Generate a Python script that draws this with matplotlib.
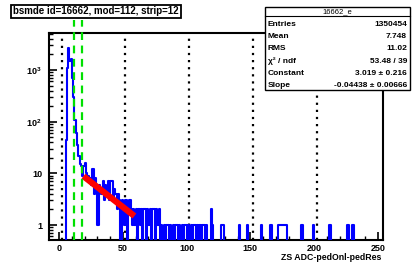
import numpy as np
import matplotlib
matplotlib.use("Agg")
import matplotlib.pyplot as plt
from matplotlib.patches import Rectangle

plt.rcParams.update({
    "font.family": ["Liberation Sans", "DejaVu Sans"],
    "mathtext.fontset": "custom",
    "mathtext.rm": "Liberation Sans",
    "mathtext.bf": "Liberation Sans:bold",
    "mathtext.it": "Liberation Sans:italic",
})

# =========================
# DATA
# =========================
# counts for bins 0..130 (bin width 1 ADC)
counts_core = [
    0, 0, 0, 0, 0, 45, 1100, 2700, 1500, 1600,
    700, 300, 110, 60, 35, 22, 15, 14, 9, 14,
    16, 10, 9, 7, 8, 6, 12, 4, 8, 5,
    1, 6, 5, 4, 7, 3, 6, 4, 7, 3,
    7, 7, 3, 5, 4, 2, 4, 3, 0, 3,
    2, 1, 3, 0, 2, 3, 2, 1, 2, 1,
    2, 0, 2, 1, 2, 0, 2, 2, 0, 2,
    1, 2, 0, 2, 2, 0, 2, 1, 2, 0,
    1, 0, 1, 0, 1, 1, 0, 1, 0, 1,
    0, 1, 1, 0, 1, 0, 1, 0, 1, 1,
    0, 1, 0, 1, 0, 1, 1, 0, 1, 0,
    1, 0, 1, 1, 0, 1, 0, 0, 0, 2,
    1, 0, 0, 0, 0, 0, 0, 1, 1, 0,
]
# sparse tail: bin -> count
tail_bins = [141, 147, 158, 165, 166, 172, 173, 174, 175, 176, 177, 178, 190, 199, 212, 226, 230]
tail_counts = [1, 1, 1, 1, 1, 1, 1, 1, 1, 1, 1, 1, 1, 1, 1, 1, 1]

n_bins = 256
fit_const = 3.019
fit_slope = -0.04438
fit_range = (19, 59)
cut_lines = [12, 18]
strip_lines = [2, 52, 102, 152, 202]

title = "bsmde id=16662, mod=112, strip=12"
x_label = "ZS ADC-pedOnl-pedRes"
stats_title = "16662_e"
stats_names = ["Entries", "Mean", "RMS", "χ² / ndf", "Constant", "Slope"]
stats_values = ["1350454", "7.748", "11.02", "53.48 / 39",
                "3.019 ± 0.216", "-0.04438 ± 0.00666"]

# =========================
# BUILD HISTOGRAM
# =========================
counts = np.zeros(n_bins)
counts[:len(counts_core)] = counts_core
for b, c in zip(tail_bins, tail_counts):
    counts[b] = c
edges = np.arange(n_bins + 1)

# =========================
# PLOT
# =========================
W, H = 413, 263
fig = plt.figure(figsize=(W / 100, H / 100), dpi=100)
fig.patch.set_facecolor("white")

def fx(px):
    return px / W

def fy(py):
    return 1 - py / H

ax = fig.add_axes([fx(49), fy(240), fx(383) - fx(49), fy(33) - fy(240)])
ax.set_yscale("log")
ax.set_xlim(-8, 254)
ax.set_ylim(0.513, 5200)

for xv in strip_lines:
    ax.axvline(xv, color="black", ls=(0, (1, 2.2)), lw=1.6, zorder=1)

ax.step(edges, np.append(counts, 0), where="post", color="blue", lw=1.5, zorder=3)

xf = np.linspace(fit_range[0], fit_range[1], 50)
ax.plot(xf, np.exp(fit_const + fit_slope * xf), color="red", lw=4.5,
        solid_capstyle="butt", zorder=4)

for xv in cut_lines:
    ax.axvline(xv, ymin=0, ymax=1.063, color="#00e000", ls=(0, (3.5, 2.5)),
               lw=1.6, clip_on=False, zorder=5)

for s in ax.spines.values():
    s.set_linewidth(1.5)

ax.set_xticks([0, 50, 100, 150, 200, 250])
ax.set_xticklabels(["0", "50", "100", "150", "200", "250"])
ax.set_xticks(np.arange(0, 251, 10), minor=True)
ax.set_yticks([1, 10, 100, 1000])
ax.set_yticklabels(["1", "10", r"$\mathbf{10^{\,2}}$", r"$\mathbf{10^{\,3}}$"])
ax.tick_params(axis="both", which="major", direction="in", length=6, width=1.2,
               labelsize=6.5, top=False, right=False)
ax.tick_params(axis="both", which="minor", direction="in", length=3, width=1.0,
               top=False, right=False)
ax.tick_params(axis="x", pad=3)
ax.tick_params(axis="y", pad=5)
for lab in ax.get_xticklabels() + ax.get_yticklabels():
    lab.set_fontweight("bold")

fig.text(fx(381), fy(258), x_label, ha="right", va="center", fontsize=6.3,
         fontweight="bold")

# title box
fig.text(fx(96), fy(11.5), title, ha="center", va="center", fontsize=7.0,
         fontweight="bold",
         bbox=dict(boxstyle="square,pad=0.2", fc="white", ec="black", lw=1.3))

# stats box
bx0, by0, bx1, by1 = 265, 7, 410, 90
fig.patches.append(Rectangle((fx(bx0), fy(by1)), fx(bx1) - fx(bx0), fy(by0) - fy(by1),
                             transform=fig.transFigure, fc="white", ec="black",
                             lw=1.0, zorder=10))
fig.lines.append(plt.Line2D([fx(bx0), fx(bx1)], [fy(16), fy(16)],
                            transform=fig.transFigure, color="black", lw=0.8,
                            zorder=11))
fig.text(fx(337), fy(11.5), stats_title, ha="center", va="center", fontsize=5.5,
         zorder=12)
row_y = [25, 36.5, 49, 61.5, 73.5, 85.5]
for yy, name, val in zip(row_y, stats_names, stats_values):
    fig.text(fx(268), fy(yy), name, ha="left", va="center", fontsize=6,
             fontweight="bold", zorder=12)
    fig.text(fx(407), fy(yy), val, ha="right", va="center", fontsize=6,
             fontweight="bold", zorder=12)

fig.savefig("out.png", dpi=100, facecolor="white")
